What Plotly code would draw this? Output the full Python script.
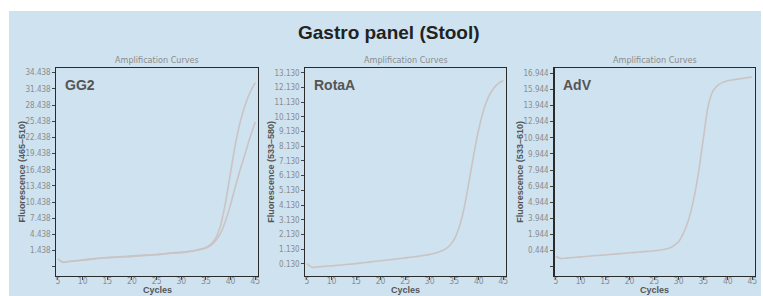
import plotly.graph_objects as go

# ---------------- data ----------------
cycles = list(range(5, 46))

gg2_upper = [-0.1, -0.7, -0.6, -0.5, -0.4, -0.3, -0.2, -0.1, 0.0, 0.1,
             0.15, 0.2, 0.25, 0.3, 0.35, 0.4, 0.5, 0.55, 0.6, 0.65,
             0.7, 0.8, 0.9, 1.0, 1.05, 1.1, 1.2, 1.35, 1.5, 1.7,
             2.0, 2.6, 3.8, 6.2, 10.5, 16.0, 21.3, 25.5, 28.6, 30.9, 32.6]
gg2_lower = [-0.15, -0.75, -0.65, -0.55, -0.45, -0.35, -0.25, -0.15, -0.05, 0.05,
             0.1, 0.15, 0.2, 0.25, 0.3, 0.35, 0.45, 0.5, 0.55, 0.6,
             0.65, 0.75, 0.85, 0.95, 1.0, 1.05, 1.15, 1.3, 1.45, 1.65,
             1.9, 2.4, 3.3, 4.7, 7.0, 10.0, 13.4, 16.6, 19.6, 22.6, 25.3]
rota = [0.15, -0.1, -0.08, -0.05, -0.02, 0.0, 0.03, 0.06, 0.09, 0.12,
        0.15, 0.19, 0.23, 0.27, 0.31, 0.35, 0.38, 0.42, 0.46, 0.5,
        0.54, 0.58, 0.62, 0.67, 0.72, 0.78, 0.86, 0.96, 1.1, 1.35,
        1.8, 2.6, 3.9, 5.7, 7.6, 9.3, 10.6, 11.5, 12.05, 12.4, 12.6]
adv = [-0.1, -0.28, -0.25, -0.22, -0.18, -0.14, -0.1, -0.06, -0.02, 0.01,
       0.04, 0.08, 0.12, 0.16, 0.2, 0.24, 0.28, 0.31, 0.35, 0.39,
       0.43, 0.48, 0.55, 0.66, 0.9, 1.3, 2.1, 3.3, 5.1, 7.6,
       10.8, 13.9, 15.3, 15.85, 16.1, 16.25, 16.33, 16.4, 16.47, 16.54, 16.6]

x_ticks = [5, 10, 15, 20, 25, 30, 35, 40, 45]

gg2_tickvals = [-1.562, 1.438, 4.438, 7.438, 10.438, 13.438, 16.438, 19.438,
                22.438, 25.438, 28.438, 31.438, 34.438]
gg2_ticktext = ["", "1.438", "4.438", "7.438", "10.438", "13.438", "16.438",
                "19.438", "22.438", "25.438", "28.438", "31.438", "34.438"]
rota_tickvals = [0.13, 1.13, 2.13, 3.13, 4.13, 5.13, 6.13, 7.13, 8.13,
                 9.13, 10.13, 11.13, 12.13, 13.13]
rota_ticktext = ["0.130", "1.130", "2.130", "3.130", "4.130", "5.130", "6.130",
                 "7.130", "8.130", "9.130", "10.130", "11.130", "12.130", "13.130"]
adv_tickvals = [-1.056, 0.444, 1.944, 3.444, 4.944, 6.444, 7.944, 9.444,
                10.944, 12.444, 13.944, 15.444, 16.944]
adv_ticktext = ["", "0.444", "1.944", "3.944", "4.944", "6.944", "7.944",
                "9.944", "10.944", "12.944", "13.944", "15.944", "16.944"]

panel_names = ["GG2", "RotaA", "AdV"]
y_titles = ["Fluorescence (465–510)", "Fluorescence (533–580)", "Fluorescence (533–610)"]
title_text = "Gastro panel (Stool)"
subtitle_text = "Amplification Curves"
x_title = "Cycles"

# ---------------- layout geometry ----------------
W, H = 763, 296
x_domains = [[55.7 / W, 258 / W], [305.7 / W, 507 / W], [555.7 / W, 757 / W]]
y_domain = [1 - 275.7 / H, 1 - 68.3 / H]
y_ranges = [[-3.23, 35.25], [-0.67, 13.43], [-1.89, 17.41]]
tick_sets = [(gg2_tickvals, gg2_ticktext), (rota_tickvals, rota_ticktext),
             (adv_tickvals, adv_ticktext)]

curve_color = "#cbc3c3"
narrow = "Liberation Sans Narrow, DejaVu Sans Condensed, Arial Narrow, sans-serif"
tick_font = dict(family=narrow, size=8, color="#8c8c8c")

fig = go.Figure()
series = [[gg2_upper, gg2_lower], [rota], [adv]]
for i, group in enumerate(series):
    for s in group:
        fig.add_trace(go.Scatter(
            x=cycles, y=s, mode="lines",
            line=dict(color=curve_color, width=1.6, shape="spline", smoothing=0.6),
            xaxis="x" if i == 0 else f"x{i+1}",
            yaxis="y" if i == 0 else f"y{i+1}",
            showlegend=False, hoverinfo="skip"))

layout = dict(
    width=W, height=H,
    margin=dict(l=0, r=0, t=0, b=0),
    paper_bgcolor="white",
    plot_bgcolor="white",
    showlegend=False,
    font=dict(family="Liberation Sans, Arial, sans-serif"),
)

annotations = []
for i in range(3):
    xk = "xaxis" if i == 0 else f"xaxis{i+1}"
    yk = "yaxis" if i == 0 else f"yaxis{i+1}"
    xa_id = "x" if i == 0 else f"x{i+1}"
    ya_id = "y" if i == 0 else f"y{i+1}"
    tv, tt = tick_sets[i]
    layout[xk] = dict(
        domain=x_domains[i], anchor=ya_id, range=[4.7, 45.55],
        tickvals=x_ticks, ticktext=[str(v) for v in x_ticks],
        ticks="outside", ticklen=3, tickwidth=1, tickcolor="#444",
        ticklabelstandoff=-6,
        tickfont=dict(family=narrow, size=8.5, color="#8c8c8c"),
        showline=True, linecolor="#2a2a2a", linewidth=1.2, mirror=True,
        showgrid=False, zeroline=False, fixedrange=True)
    layout[yk] = dict(
        domain=y_domain, anchor=xa_id, range=y_ranges[i],
        tickvals=tv, ticktext=tt,
        ticks="outside", ticklen=3, tickwidth=1, tickcolor="#444",
        tickfont=tick_font,
        showline=True, linecolor="#2a2a2a", linewidth=1.2, mirror=True,
        showgrid=False, zeroline=False, fixedrange=True)

    xc = (x_domains[i][0] + x_domains[i][1]) / 2
    # subplot title
    annotations.append(dict(
        text=subtitle_text, xref="paper", yref="paper",
        x=xc, y=1 - 60 / H, xanchor="center", yanchor="middle",
        showarrow=False, font=dict(size=9, color="#8c8c8c", family=narrow)))
    # panel name inside
    annotations.append(dict(
        text=f"<b>{panel_names[i]}</b>", xref="paper", yref="paper",
        x=x_domains[i][0] + 6.5 / W, y=1 - 84.5 / H, xanchor="left", yanchor="middle",
        showarrow=False, font=dict(size=14, color="#555555")))
    # y title
    annotations.append(dict(
        text=f"<b>{y_titles[i]}</b>", xref="paper", yref="paper",
        x=x_domains[i][0] - 35 / W, y=(y_domain[0] + y_domain[1]) / 2,
        xanchor="center", yanchor="middle", textangle=-90,
        showarrow=False, font=dict(size=9, color="#555555")))
    # x title
    annotations.append(dict(
        text=f"<b>{x_title}</b>", xref="paper", yref="paper",
        x=xc, y=0, xanchor="center", yanchor="bottom", borderpad=0,
        showarrow=False, font=dict(size=9, color="#555555")))

annotations.append(dict(
    text=f"<b>{title_text}</b>", xref="paper", yref="paper",
    x=390 / W, y=1 - 32 / H, xanchor="center", yanchor="middle",
    showarrow=False, font=dict(size=19, color="#222222")))

layout["annotations"] = annotations
layout["shapes"] = [dict(
    type="rect", xref="paper", yref="paper",
    x0=8 / W, x1=1, y0=0, y1=1 - 11 / H,
    fillcolor="#cee2f0", line=dict(width=0), layer="below")]

fig.update_layout(**layout)
fig.write_html("out.html",
               config={"displayModeBar": False, "staticPlot": True},
               post_script="document.body.style.margin='0';document.body.style.overflow='hidden';")
